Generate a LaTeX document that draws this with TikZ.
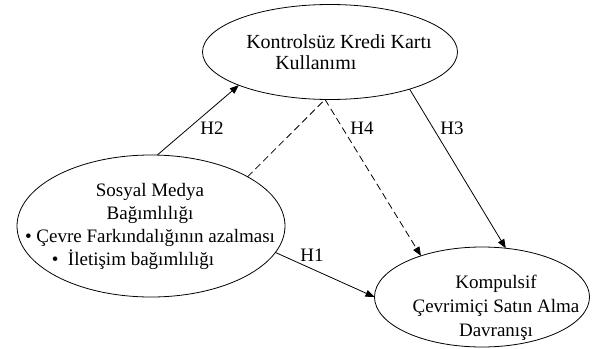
\documentclass[tikz,border=0pt]{standalone}
\usepackage{fontspec}
\setmainfont{Liberation Serif}
\usetikzlibrary{shapes.geometric,arrows.meta}
\tikzset{
  oval/.style={draw, ellipse, line width=0.8pt, inner sep=0pt, outer sep=0pt},
  lbl/.style={font=\fontsize{19}{22}\selectfont, inner sep=0pt},
  link/.style={line width=0.8pt, -{Triangle[length=9pt,width=7pt]}},
  dlink/.style={line width=0.8pt, dash pattern=on 7pt off 4pt}
}
\begin{document}
\begin{tikzpicture}[x=1pt,y=-1pt]
  \useasboundingbox (0,0) rectangle (593,348);
  \node[oval, minimum width=255pt, minimum height=95pt] (kkk) at (330,52) {};
  \node[oval, minimum width=268pt, minimum height=142pt] (smb) at (151,226) {};
  \node[oval, minimum width=215pt, minimum height=100pt] (kcs) at (482,297) {};
  \node[lbl, font=\fontsize{20}{21}\selectfont, align=left] (kkk-txt) at (339,52) {Kontrolsüz Kredi Kartı\\\hspace*{29pt}Kullanımı};
  \node[lbl, font=\fontsize{19}{23}\selectfont, align=center] (smb-txt) at (150,226) {Sosyal Medya\\Bağımlılığı\\• Çevre Farkındalığının azalması\\•\ \ İletişim bağımlılığı\hspace*{34pt}};
  \node[lbl, font=\fontsize{19}{24}\selectfont, align=center] (kcs-txt) at (496,308) {Kompulsif\\Çevrimiçi Satın Alma\\Davranışı};
  \draw[link] (smb.85) -- (kkk.200);
  \draw[link] (kkk.335) -- (kcs.64);
  \draw[link] (smb.-12) -- (kcs.180);
  \draw[dlink] (smb.27) -- (kkk.264);
  \draw[dlink, -{Triangle[length=9pt,width=7pt]}] (kkk.264) -- (kcs.146);
  \node[lbl] (h2) at (212,128) {H2};
  \node[lbl] (h4) at (362,128) {H4};
  \node[lbl] (h3) at (452,128) {H3};
  \node[lbl] (h1) at (312,255) {H1};
\end{tikzpicture}
\end{document}
